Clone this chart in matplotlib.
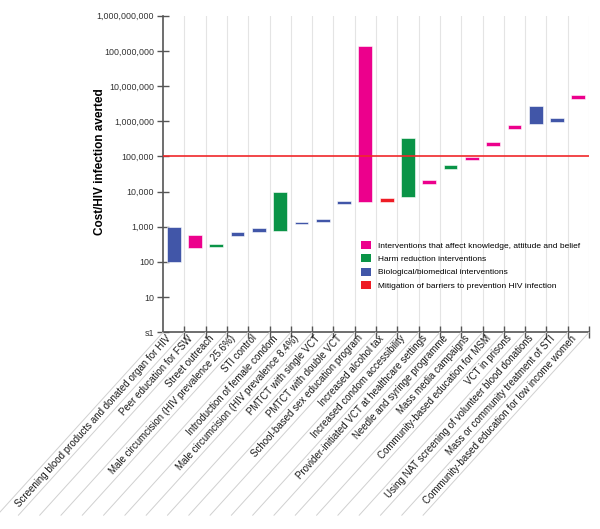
import matplotlib
matplotlib.use("Agg")
import matplotlib.pyplot as plt
from matplotlib.patches import Patch

plt.rcParams['font.family'] = ['Liberation Sans', 'DejaVu Sans']

categories = [
    "Screening blood products and donated organ for HIV",
    "Peer education for FSW",
    "Street outreach",
    "Male circumcision (HIV prevalence 25.6%)",
    "STI control",
    "Introduction of female condom",
    "Male circumcision (HIV prevalence 8.4%)",
    "PMTCT with single VCT",
    "PMTCT with double VCT",
    "School-based sex education program",
    "Increased alcohol tax",
    "Increased condom accessibility",
    "Provider-initiated VCT at healthcare settings",
    "Needle and syringe programme",
    "Mass media campaigns",
    "Community-based education for MSM",
    "VCT in prisons",
    "Using NAT screening of volunteer blood donations",
    "Mass or community treatment of STI",
    "Community-based education for low income women",
]
low = [100, 250, 270, 560, 720, 750, 1180, 1350, 4400, 5000, 5200, 7000,
       16000, 44000, 78000, 200000, 600000, 850000, 960000, 4300000]
high = [1000, 600, 330, 720, 930, 10000, 1350, 1650, 5500, 140000000, 6500, 330000,
        21000, 56000, 97000, 260000, 800000, 2700000, 1200000, 5400000]
groups = ["bio", "kab", "harm", "bio", "bio", "harm", "bio", "bio", "bio", "kab",
          "barrier", "harm", "kab", "harm", "kab", "kab", "kab", "bio", "bio", "kab"]
group_names = {
    "kab": "Interventions that affect knowledge, attitude and belief",
    "harm": "Harm reduction interventions",
    "bio": "Biological/biomedical interventions",
    "barrier": "Mitigation of barriers to prevention HIV infection",
}
group_colors = {"kab": "#EC008C", "harm": "#0A9447", "bio": "#4156A8", "barrier": "#EE1C25"}
threshold = 100000
ytick_vals = [1, 10, 100, 1000, 10000, 100000, 1000000, 10000000, 100000000, 1000000000]
ytick_labels = ["s1", "10", "100", "1,000", "10,000", "100,000", "1,000,000",
                "10,000,000", "100,000,000", "1,000,000,000"]

fig = plt.figure(figsize=(6.0, 5.29), dpi=100)
ax = fig.add_axes([0.2717, 0.3718, 0.7100, 0.5985])

n = len(categories)
xs = list(range(n))
for x, lo, hi, g in zip(xs, low, high, groups):
    ax.bar(x, hi - lo, bottom=lo, width=0.65, color=group_colors[g],
           edgecolor="white", linewidth=0.4, zorder=3)

ax.axhline(threshold, color="#F0282A", lw=1.2, zorder=4)

ax.set_yscale("log")
ax.set_ylim(1, 1e9)
ax.set_xlim(-0.5, n - 0.5)
ax.set_yticks(ytick_vals)
ax.set_yticklabels(ytick_labels, fontsize=6.4, color="#333333")
ax.yaxis.set_minor_locator(matplotlib.ticker.NullLocator())
ax.tick_params(axis="y", direction="inout", length=9, width=1.0, color="#555555", pad=2)

bounds = [k + 0.5 for k in range(n)]
ax.set_xticks(bounds)
ax.set_xticklabels([])
ax.tick_params(axis="x", direction="inout", length=8, width=1.0, color="#555555")
for b in bounds:
    ax.axvline(b, color="#E4E4E4", lw=0.8, zorder=1)

for s in ["top", "right"]:
    ax.spines[s].set_visible(False)
for s in ["left", "bottom"]:
    ax.spines[s].set_color("#555555")
    ax.spines[s].set_linewidth(1.2)

ax.set_ylabel("Cost/HIV infection averted", fontsize=8.5, fontweight="bold")
ax.yaxis.set_label_coords(-0.135, 0.54)

# slanted guide lines below the axis
dx_pt, dy_pt = 166 * 0.72, 183 * 0.72
for k in range(n + 1):
    ax.annotate("", xy=(k - 0.5, 0), xycoords=("data", "axes fraction"),
                xytext=(-dx_pt, -dy_pt), textcoords="offset points",
                arrowprops=dict(arrowstyle="-", color="#D0D0D0", lw=0.7,
                                shrinkA=0, shrinkB=0),
                annotation_clip=False)

# category labels
for x, lab in zip(xs, categories):
    ax.annotate(lab, xy=(x, 0), xycoords=("data", "axes fraction"),
                xytext=(-3, -3), textcoords="offset points",
                rotation=48, rotation_mode="anchor", ha="right", va="center",
                fontsize=7, color="#1a1a1a", annotation_clip=False)

handles = [Patch(facecolor=group_colors[g], label=group_names[g])
           for g in ["kab", "harm", "bio", "barrier"]]
ax.legend(handles=handles, loc="upper left", bbox_to_anchor=(0.458, 0.30),
          frameon=False, fontsize=6.0, handlelength=1.1, handleheight=1.1,
          labelspacing=0.55, handletextpad=0.9, borderaxespad=0)

fig.savefig("out.png", dpi=100)
